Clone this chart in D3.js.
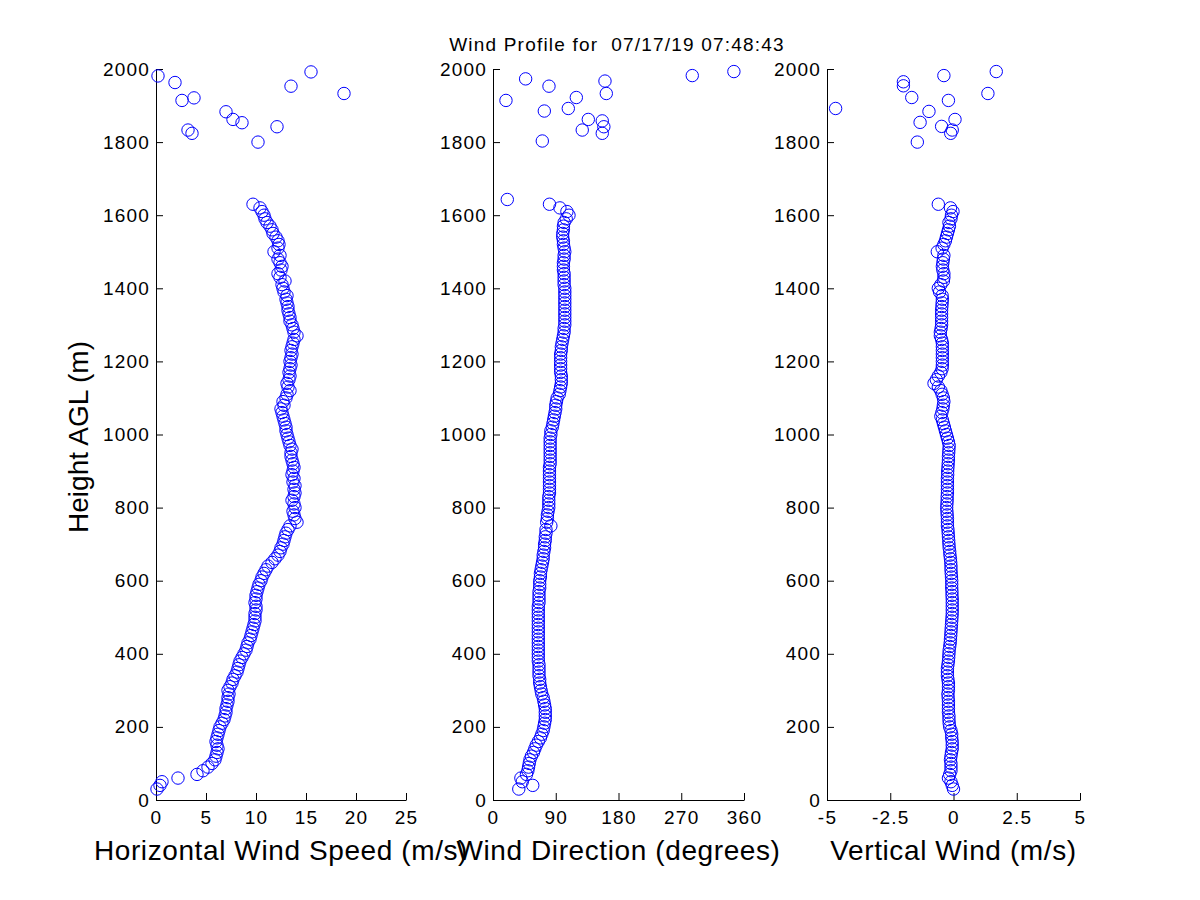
<!DOCTYPE html>
<html>
<head>
<meta charset="utf-8">
<script src="https://cdn.jsdelivr.net/npm/d3@7"></script>
<style>
  body { margin: 0; background: #fff; }
  text { font-family: "Liberation Sans", Arial, sans-serif; }
</style>
</head>
<body>
<svg id="canvas" width="1200" height="900"></svg>
<script>
// profile heights (m AGL), one row per 100 m
var heights = [
  30, 40, 50, 60, 70, 80, 90, 100, 110, 120,
  130, 140, 150, 160, 170, 180, 190, 200, 210, 220,
  230, 240, 250, 260, 270, 280, 290, 300, 310, 320,
  330, 340, 350, 360, 370, 380, 390, 400, 410, 420,
  430, 440, 450, 460, 470, 480, 490, 500, 510, 520,
  530, 540, 550, 560, 570, 580, 590, 600, 610, 620,
  630, 640, 650, 660, 670, 680, 690, 700, 710, 720,
  730, 740, 750, 760, 770, 780, 790, 800, 810, 820,
  830, 840, 850, 860, 870, 880, 890, 900, 910, 920,
  930, 940, 950, 960, 970, 980, 990, 1000, 1010, 1020,
  1030, 1040, 1050, 1060, 1070, 1080, 1090, 1100, 1110, 1120,
  1130, 1140, 1150, 1160, 1170, 1180, 1190, 1200, 1210, 1220,
  1230, 1240, 1250, 1260, 1270, 1280, 1290, 1300, 1310, 1320,
  1330, 1340, 1350, 1360, 1370, 1380, 1390, 1400, 1410, 1420,
  1430, 1440, 1450, 1460, 1470, 1480, 1490, 1500, 1510, 1520,
  1530, 1540, 1550, 1560, 1570, 1580, 1590, 1600, 1610, 1620,
  1630
];

// horizontal wind speed (m/s)
var speed = [
  0.1, 0.4, 0.6, 2.2, 4.1, 4.7, 5.2, 5.6, 5.9, 6.0,
  6.1, 6.2, 6.1, 6.0, 6.1, 6.2, 6.3, 6.4, 6.6, 6.8,
  6.9, 7.0, 7.0, 7.1, 7.2, 7.2, 7.3, 7.2, 7.4, 7.6,
  7.7, 7.9, 8.1, 8.2, 8.3, 8.4, 8.6, 8.8, 9.0, 9.1,
  9.2, 9.4, 9.5, 9.6, 9.7, 9.8, 9.9, 9.9, 9.9, 10.0,
  10.0, 9.9, 10.0, 10.0, 10.1, 10.2, 10.3, 10.5, 10.6, 10.8,
  11.0, 11.2, 11.6, 11.9, 12.2, 12.4, 12.5, 12.7, 12.8, 12.9,
  13.0, 13.2, 13.4, 14.1, 13.9, 13.8, 13.7, 13.9, 13.8, 13.6,
  13.8, 13.9, 13.8, 13.9, 13.7, 13.8, 13.6, 13.7, 13.8, 13.7,
  13.6, 13.5, 13.5, 13.6, 13.4, 13.3, 13.2, 13.1, 13.0, 13.0,
  12.9, 12.8, 12.7, 12.6, 12.5, 12.8, 12.7, 13.0, 13.1, 13.4,
  13.2, 13.1, 13.3, 13.4, 13.3, 13.4, 13.5, 13.4, 13.5, 13.6,
  13.5, 13.6, 13.7, 13.8, 14.1, 13.8, 13.7, 13.6, 13.4, 13.4,
  13.3, 13.2, 13.2, 13.1, 13.0, 13.1, 12.8, 12.7, 12.6, 12.9,
  12.4, 12.2, 12.5, 12.6, 12.4, 12.2, 12.4, 11.8, 12.2, 12.3,
  12.2, 12.0, 11.7, 11.6, 11.4, 11.1, 10.9, 10.8, 10.6, 10.4,
  9.7
];

// wind direction (degrees)
var direction = [
  37, 57, 42, 40, 48, 50, 51, 52, 53, 55,
  58, 60, 62, 65, 68, 70, 72, 73, 74, 75,
  75, 75, 75, 74, 73, 72, 70, 69, 68, 67,
  67, 66, 66, 66, 66, 65, 65, 65, 65, 65,
  65, 65, 65, 65, 65, 65, 65, 65, 65, 65,
  65, 66, 66, 66, 66, 67, 67, 67, 68, 68,
  69, 70, 71, 72, 72, 73, 74, 74, 75, 75,
  76, 76, 83, 77, 78, 78, 79, 80, 80, 80,
  80, 81, 81, 81, 81, 81, 81, 81, 81, 82,
  82, 82, 82, 82, 82, 82, 82, 83, 83, 85,
  86, 87, 88, 89, 90, 90, 91, 92, 95, 96,
  97, 98, 98, 98, 97, 97, 97, 97, 97, 97,
  98, 98, 99, 100, 101, 102, 102, 103, 103, 103,
  103, 103, 103, 103, 103, 103, 103, 103, 102, 102,
  102, 102, 101, 101, 101, 102, 102, 103, 102, 101,
  101, 100, 100, 101, 101, 102, 105, 109, 106, 96,
  81
];

// vertical wind (m/s)
var vertical = [
  0.0, -0.05, -0.1, -0.2, -0.15, -0.1, -0.1, -0.1, -0.12, -0.1,
  -0.08, -0.05, -0.05, -0.05, -0.07, -0.07, -0.1, -0.15, -0.17, -0.18,
  -0.18, -0.2, -0.2, -0.2, -0.2, -0.21, -0.22, -0.2, -0.2, -0.2,
  -0.22, -0.24, -0.24, -0.24, -0.22, -0.2, -0.19, -0.18, -0.17, -0.15,
  -0.13, -0.12, -0.11, -0.1, -0.09, -0.08, -0.07, -0.06, -0.05, -0.05,
  -0.05, -0.05, -0.05, -0.06, -0.06, -0.07, -0.07, -0.07, -0.08, -0.09,
  -0.1, -0.1, -0.11, -0.12, -0.14, -0.15, -0.17, -0.18, -0.19, -0.2,
  -0.21, -0.22, -0.24, -0.24, -0.24, -0.25, -0.26, -0.27, -0.26, -0.25,
  -0.25, -0.24, -0.24, -0.24, -0.24, -0.24, -0.23, -0.23, -0.22, -0.21,
  -0.2, -0.2, -0.19, -0.18, -0.17, -0.2, -0.24, -0.28, -0.32, -0.36,
  -0.4, -0.44, -0.5, -0.46, -0.42, -0.4, -0.38, -0.4, -0.45, -0.5,
  -0.6, -0.77, -0.68, -0.6, -0.5, -0.45, -0.44, -0.44, -0.44, -0.44,
  -0.44, -0.44, -0.44, -0.47, -0.52, -0.52, -0.49, -0.47, -0.47, -0.47,
  -0.47, -0.47, -0.46, -0.45, -0.44, -0.45, -0.55, -0.6, -0.5, -0.4,
  -0.38, -0.38, -0.42, -0.44, -0.42, -0.4, -0.38, -0.64, -0.45, -0.38,
  -0.32, -0.28, -0.24, -0.2, -0.16, -0.18, -0.1, -0.08, -0.02, -0.12,
  -0.6
];

// scattered returns near the top of the profile
var topHeightsSpeed = [1800, 1824, 1833, 1842, 1853, 1862, 1883, 1914, 1921, 1933, 1953, 1963, 1981, 1992];
var topSpeed        = [10.2, 3.6, 3.2, 12.1, 8.6, 7.7, 7.0, 2.6, 3.8, 18.8, 13.5, 1.9, 0.2, 15.5];

var topHeightsDir = [1643, 1803, 1824, 1833, 1842, 1858, 1862, 1885, 1892, 1914, 1922, 1933, 1953, 1967, 1973, 1982, 1993];
var topDir        = [20.5, 70.7, 156.7, 128, 159, 156.7, 136.7, 73.6, 108, 18.6, 119.5, 162.5, 80.3, 160.6, 46.8, 285.8, 345.5];

var topHeightsVert = [1800, 1824, 1833, 1843, 1854, 1862, 1884, 1892, 1914, 1922, 1933, 1954, 1965, 1982, 1993];
var topVert        = [-1.43, -0.11, -0.05, -0.47, -1.32, 0.06, -0.97, -4.66, -0.2, -1.65, 1.36, -1.98, -1.98, -0.38, 1.69];

var heightTicks = [0, 200, 400, 600, 800, 1000, 1200, 1400, 1600, 1800, 2000];
var titleText = "Wind Profile for  07/17/19 07:48:43";

var panels = [
  { label: "Horizontal Wind Speed (m/s)", domain: [0, 25], range: [156, 406],
    ticks: [0, 5, 10, 15, 20, 25], values: speed, topH: topHeightsSpeed, topV: topSpeed },
  { label: "Wind Direction (degrees)", domain: [0, 360], range: [493, 744],
    ticks: [0, 90, 180, 270, 360], values: direction, topH: topHeightsDir, topV: topDir },
  { label: "Vertical Wind (m/s)", domain: [-5, 5], range: [827, 1080],
    ticks: [-5, -2.5, 0, 2.5, 5], values: vertical, topH: topHeightsVert, topV: topVert }
];

var svg = d3.select("#canvas");
svg.append("rect").attr("width", 1200).attr("height", 900).attr("fill", "#fff");

var y = d3.scaleLinear().domain([0, 2000]).range([800, 69]);

function styleAxis(g) {
  g.attr("font-family", null).attr("font-size", null);
  g.select(".domain").attr("stroke", "#000");
  g.selectAll(".tick line").attr("stroke", "#000");
  g.selectAll(".tick text")
    .attr("fill", "#000")
    .style("font-size", "19px")
    .style("letter-spacing", "1.2px");
}

panels.forEach(function(p) {
  var x = d3.scaleLinear().domain(p.domain).range(p.range);

  var xAxis = d3.axisBottom(x)
    .tickValues(p.ticks)
    .tickFormat(function(d) { return String(d); })
    .tickSizeInner(-7).tickSizeOuter(0).tickPadding(11);
  svg.append("g")
    .attr("transform", "translate(0," + y(0) + ")")
    .call(xAxis)
    .call(styleAxis);

  var yAxis = d3.axisLeft(y)
    .tickValues(heightTicks)
    .tickFormat(function(d) { return String(d); })
    .tickSizeInner(-7).tickSizeOuter(0).tickPadding(6);
  svg.append("g")
    .attr("transform", "translate(" + p.range[0] + ",0)")
    .call(yAxis)
    .call(styleAxis);

  var pts = heights.map(function(h, i) { return { h: h, v: p.values[i] }; })
    .concat(p.topH.map(function(h, i) { return { h: h, v: p.topV[i] }; }));

  svg.append("g").selectAll("circle")
    .data(pts)
    .enter()
    .append("circle")
      .attr("cx", function(d) { return x(d.v); })
      .attr("cy", function(d) { return y(d.h); })
      .attr("r", 6.2)
      .attr("fill", "none")
      .attr("stroke", "#0000ff")
      .attr("stroke-width", 1);

  svg.append("text")
    .attr("x", (p.range[0] + p.range[1]) / 2)
    .attr("y", 860)
    .attr("text-anchor", "middle")
    .style("font-size", "28px")
    .style("letter-spacing", "0.6px")
    .text(p.label);
});

svg.append("text")
  .attr("transform", "translate(88,437) rotate(-90)")
  .attr("text-anchor", "middle")
  .style("font-size", "28px")
  .text("Height AGL (m)");

// keep the double space of the original title
svg.append("text")
  .attr("x", 617)
  .attr("y", 51)
  .attr("text-anchor", "middle")
  .style("font-size", "19px")
  .style("letter-spacing", "1.2px")
  .style("white-space", "pre")
  .text(titleText);
</script>
</body>
</html>
